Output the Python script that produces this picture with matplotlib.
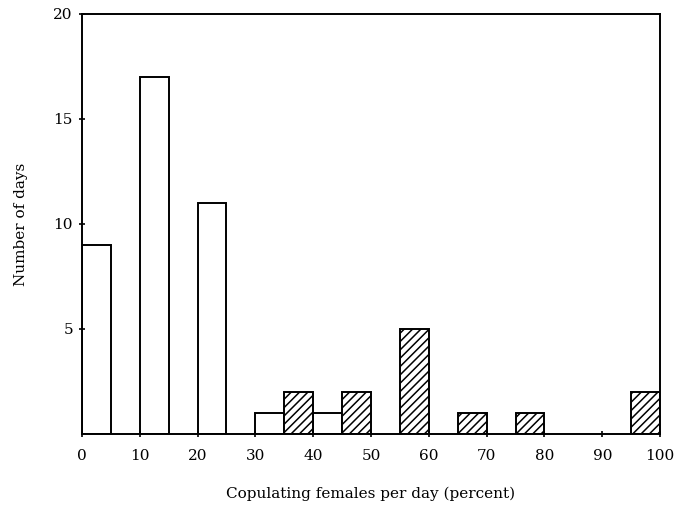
import matplotlib.pyplot as plt

plt.rcParams['font.family'] = ['DejaVu Serif']
plt.rcParams['hatch.linewidth'] = 1.1

# open bars (left edge of 5% bin, count)
open_left = [0, 10, 20, 30, 40]
open_count = [9, 17, 11, 1, 1]
# hatched bars
hatch_left = [35, 45, 55, 65, 75, 95]
hatch_count = [2, 2, 5, 1, 1, 2]

x_ticks = [0, 10, 20, 30, 40, 50, 60, 70, 80, 90, 100]
y_ticks = [5, 10, 15, 20]

fig = plt.figure(figsize=(6.77, 5.16), dpi=100)
ax = fig.add_axes([0.121, 0.159, 0.854, 0.814])

ax.bar(open_left, open_count, width=5, align='edge', facecolor='white',
       edgecolor='black', linewidth=1.4)
ax.bar(hatch_left, hatch_count, width=5, align='edge', facecolor='white',
       edgecolor='black', linewidth=1.4, hatch='////')

ax.set_xlim(0, 100)
ax.set_ylim(0, 20)
ax.set_xticks(x_ticks)
ax.set_yticks(y_ticks)
for s in ax.spines.values():
    s.set_linewidth(1.4)
ax.tick_params(axis='both', direction='inout', length=5, width=1.2, labelsize=11)
ax.tick_params(axis='x', pad=8)
ax.tick_params(axis='y', pad=4)

ax.set_xlabel('Copulating females per day (percent)', fontsize=11, labelpad=17)
ax.set_ylabel('Number of days', fontsize=11, labelpad=18)

plt.savefig('out.png')
